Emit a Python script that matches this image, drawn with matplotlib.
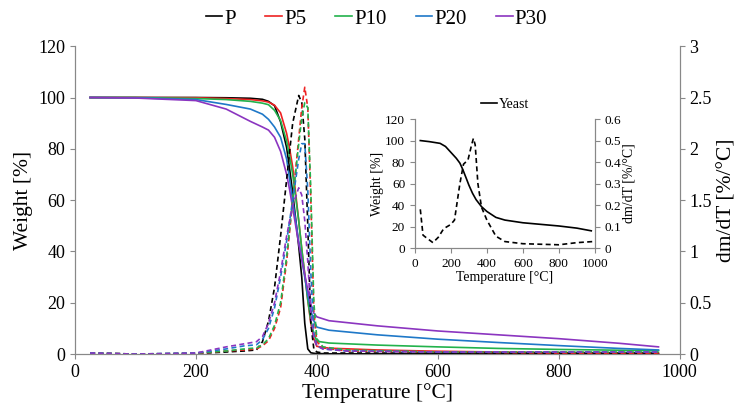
import matplotlib
matplotlib.use("Agg")
from matplotlib import pyplot as plt
from matplotlib.ticker import FormatStrFormatter, MultipleLocator

plt.rcParams['font.family'] = ['Liberation Serif', 'DejaVu Serif']

# TGA (weight) curves, main plot
temp_w = [25, 100, 200, 250, 290, 310, 320, 330, 340, 350, 355, 360, 370, 375, 380,
          385, 390, 395, 400, 420, 500, 600, 700, 800, 900, 965]
w_p = [100, 100, 100, 99.9, 99.7, 99.3, 98.5, 96.8, 90.5, 80.5, 72, 63, 42, 30, 12,
       2, 0.5, 0.3, 0.2, 0.1, 0.1, 0.1, 0.1, 0.1, 0.1, 0.1]
w_p5 = [100, 100, 99.9, 99.6, 99.2, 98.7, 98.2, 97, 94, 86, 80, 73, 52, 41, 31,
        21, 12, 6, 3, 2.3, 1.6, 1.1, 0.8, 0.6, 0.5, 0.4]
w_p10 = [100, 100, 99.6, 99.2, 98.5, 97.8, 97.2, 95, 91, 83, 77, 70, 52, 41, 31,
         21, 13, 8, 5, 4.3, 3.5, 2.8, 2.2, 1.8, 1.5, 1.3]
w_p20 = [100, 99.9, 99.2, 97.3, 95.5, 93.5, 91.5, 88.5, 84.5, 76, 68, 60, 44, 37, 30,
         23, 17, 13, 10.5, 9.3, 7.5, 5.8, 4.5, 3.3, 2.2, 1.6]
w_p30 = [100, 99.8, 98.8, 95.5, 90.7, 88.5, 87.3, 84.5, 79, 70, 64, 57, 43, 37, 31,
         25, 19.5, 16, 14.5, 13, 11, 9, 7.5, 6, 4.2, 2.8]

# DTG curves, main plot (right axis)
temp_d = [25, 100, 200, 250, 280, 300, 310, 320, 330, 340, 350, 360, 370, 375, 380,
          385, 390, 395, 400, 410, 450, 600, 800, 965]
d_p = [0.01, 0.0, 0.005, 0.02, 0.03, 0.04, 0.12, 0.32, 0.65, 1.15, 1.7, 2.25, 2.52, 2.45, 2.1,
       1.25, 0.3, 0.05, 0.02, 0.01, 0.01, 0.01, 0.01, 0.01]
d_p5 = [0.01, 0.0, 0.005, 0.03, 0.04, 0.05, 0.08, 0.13, 0.25, 0.45, 0.9, 1.5, 2.1, 2.4, 2.6,
        2.4, 1.5, 0.4, 0.12, 0.06, 0.03, 0.02, 0.01, 0.01]
d_p10 = [0.01, 0.0, 0.01, 0.03, 0.05, 0.06, 0.09, 0.15, 0.28, 0.5, 0.95, 1.5, 2.05, 2.3, 2.45,
         2.4, 1.6, 0.5, 0.15, 0.07, 0.04, 0.02, 0.02, 0.02]
d_p20 = [0.01, 0.0, 0.01, 0.05, 0.08, 0.09, 0.14, 0.25, 0.45, 0.75, 1.1, 1.5, 1.9, 2.05, 2.05,
         1.6, 0.8, 0.2, 0.08, 0.05, 0.03, 0.02, 0.02, 0.02]
d_p30 = [0.01, 0.0, 0.01, 0.07, 0.1, 0.12, 0.17, 0.3, 0.5, 0.8, 1.15, 1.45, 1.62, 1.55, 1.3,
         0.9, 0.4, 0.15, 0.08, 0.05, 0.03, 0.02, 0.02, 0.02]

labels = ["P", "P5", "P10", "P20", "P30"]
colors = ["#000000", "#ee2222", "#22b24c", "#1f78c8", "#8b35c0"]

# Yeast inset
yeast_tw = [30, 80, 140, 170, 200, 230, 250, 265, 285, 300, 320, 340, 370, 400, 450,
            500, 600, 700, 800, 900, 980]
yeast_w = [100, 99, 97.4, 94.5, 89, 83.5, 79, 73.5, 65, 58.5, 51, 45, 38.5, 34, 28.5,
           26, 23.5, 22, 20.5, 18.5, 16]
yeast_td = [30, 45, 60, 100, 130, 160, 200, 220, 250, 270, 295, 315, 325, 335, 350, 370,
            400, 450, 500, 600, 800, 900, 990]
yeast_d = [0.18, 0.06, 0.05, 0.025, 0.05, 0.09, 0.11, 0.13, 0.3, 0.39, 0.41, 0.48, 0.51,
           0.48, 0.3, 0.19, 0.13, 0.055, 0.03, 0.02, 0.015, 0.025, 0.03]

spine_c = "#888888"


def style_axes(ax, lsize):
    ax.spines['top'].set_visible(False)
    for s in ['left', 'right', 'bottom']:
        ax.spines[s].set_color(spine_c)
    ax.tick_params(colors=spine_c, labelcolor='black', labelsize=lsize)


fig = plt.figure(figsize=(7.53, 4.2), dpi=100)
ax = fig.add_axes([0.0996, 0.157, 0.803, 0.733])
ax2 = ax.twinx()

weights = [w_p, w_p5, w_p10, w_p20, w_p30]
dtgs = [d_p, d_p5, d_p10, d_p20, d_p30]
handles = []
for i in range(len(labels)):
    h, = ax.plot(temp_w, weights[i], color=colors[i], lw=1.2, label=labels[i])
    handles.append(h)
    ax2.plot(temp_d, dtgs[i], color=colors[i], lw=1.2, ls=(0, (3, 2)))

ax.set_xlim(0, 1000)
ax.set_ylim(0, 120)
ax2.set_ylim(0, 3)
ax.xaxis.set_major_locator(MultipleLocator(200))
ax.yaxis.set_major_locator(MultipleLocator(20))
ax2.yaxis.set_major_locator(MultipleLocator(0.5))
ax2.yaxis.set_major_formatter(FormatStrFormatter('%g'))
ax.set_xlabel("Temperature [°C]", fontsize=15.5, labelpad=2)
ax.set_ylabel("Weight [%]", fontsize=15.5)
ax2.set_ylabel("dm/dT [%/°C]", fontsize=15.5)
style_axes(ax, 13)
style_axes(ax2, 13)

fig.legend(handles=handles, loc='center', bbox_to_anchor=(0.5, 0.955), ncol=5,
           frameon=False, fontsize=15, handlelength=0.8, handletextpad=0.1,
           columnspacing=1.4)

# inset
ins = fig.add_axes([0.551, 0.4095, 0.239, 0.307])
ins2 = ins.twinx()
hy, = ins.plot(yeast_tw, yeast_w, color='black', lw=1.2, label="Yeast")
ins2.plot(yeast_td, yeast_d, color='black', lw=1.2, ls=(0, (3, 2)))
ins.set_xlim(0, 1000)
ins.set_ylim(0, 120)
ins2.set_ylim(0, 0.6)
ins.xaxis.set_major_locator(MultipleLocator(200))
ins.yaxis.set_major_locator(MultipleLocator(20))
ins2.yaxis.set_major_locator(MultipleLocator(0.1))
ins2.yaxis.set_major_formatter(FormatStrFormatter('%g'))
ins.set_xlabel("Temperature [°C]", fontsize=10, labelpad=1)
ins.set_ylabel("Weight [%]", fontsize=10, labelpad=1)
ins2.set_ylabel("dm/dT [%/°C]", fontsize=10, labelpad=1)
style_axes(ins, 9.5)
style_axes(ins2, 9.5)
ins.patch.set_alpha(0)
ins.legend(handles=[hy], loc='lower center', bbox_to_anchor=(0.5, 1.0), frameon=False,
           fontsize=10, handlelength=1.2, handletextpad=0.1, borderaxespad=0.2)

fig.savefig("out.png", dpi=100)
